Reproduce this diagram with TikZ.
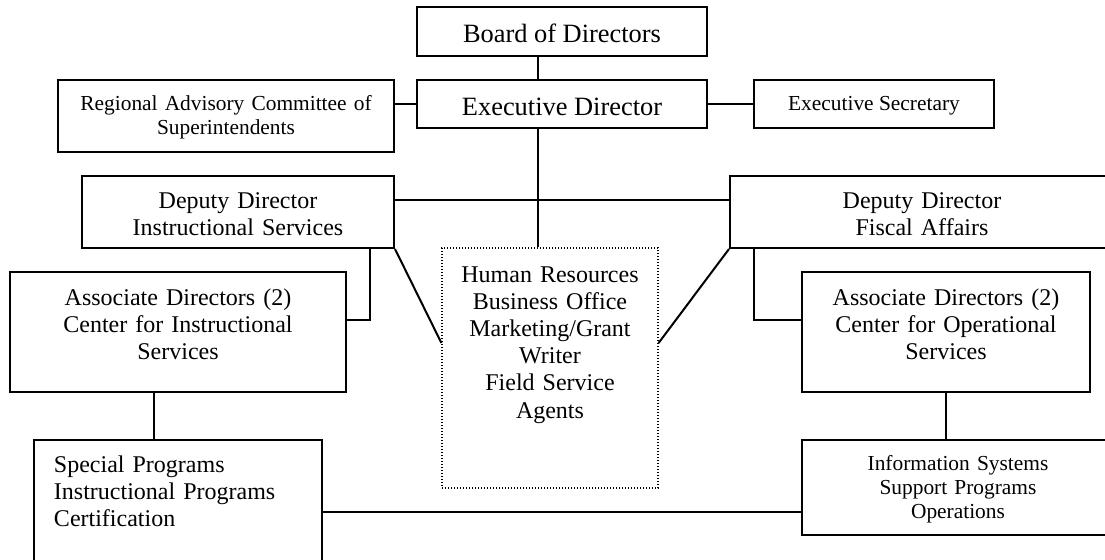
\documentclass[tikz,border=0pt]{standalone}
\usepackage{fontspec}
\setmainfont{Liberation Serif}
\newcommand{\bigsize}{\fontsize{13.2pt}{15pt}\selectfont}
\newcommand{\midsize}{\fontsize{12pt}{13.6pt}\selectfont}
\newcommand{\smallsize}{\fontsize{10.7pt}{12.2pt}\selectfont}

\begin{document}
\begin{tikzpicture}[x=0.5pt, y=-0.5pt, line width=1pt,
    box/.style={draw, rectangle, inner sep=0pt, align=center},
    dotbox/.style={draw, rectangle, inner sep=0pt, align=center, line width=0.6pt, dash pattern=on 0.6pt off 0.9pt}]
    \useasboundingbox (0,0) rectangle (1105,559);
    \clip (0,0) rectangle (1105,559);

    \node[box, minimum width=145pt, text height=17.8pt, text depth=6.7pt, font=\bigsize] at (562,31.5) (board) {Board of Directors};
    \node[box, minimum width=145pt, text height=17.5pt, text depth=6.5pt, font=\bigsize] at (562,104)  (exec)  {Executive Director};
    \node[box, text width=168pt, text height=15pt, text depth=21pt, font=\smallsize] at (226,116) (rac)
        {Regional Advisory Committee of\\ Superintendents};
    \node[box, minimum width=120pt, text height=15pt, text depth=9pt, font=\smallsize] at (874,104) (sec) {Executive Secretary};
    \node[box, text width=156pt, text height=16pt, text depth=20pt, font=\midsize] at (238,212) (ddis)
        {Deputy Director\\ Instructional Services};
    \node[box, text width=192pt, text height=16pt, text depth=20pt, font=\midsize] at (922,212) (ddfa)
        {Deputy Director\\ Fiscal Affairs};
    \node[dotbox, text width=108pt, text height=17pt, text depth=103pt, font=\midsize] at (550,368) (hr)
        {Human Resources\\ Business Office\\ Marketing/Grant\\ Writer\\ Field Service\\ Agents};
    \node[box, text width=168pt, text height=16.5pt, text depth=43.5pt, font=\midsize] at (178,332) (ai)
        {Associate Directors (2)\\ Center for Instructional\\ Services};
    \node[box, text width=144pt, text height=16.5pt, text depth=43.5pt, font=\midsize] at (946,332) (ao)
        {Associate Directors (2)\\ Center for Operational\\ Services};
    \node[box, align=left, inner xsep=10pt, text width=124pt, text height=16pt, text depth=64pt, font=\midsize] at (178,520) (sp)
        {Special Programs\\ Instructional Programs\\ Certification};
    \node[box, text width=156pt, text height=15pt, text depth=32.5pt, font=\smallsize] at (958,487.5) (is)
        {Information Systems\\ Support Programs\\ Operations};

    \coordinate (spine) at (538,0);
    \coordinate (bar)   at (0,200);
    \coordinate (mid)   at (0,343);
    \coordinate (tap)   at (0,320);
    \coordinate (lt)    at (370,0);
    \coordinate (rt)    at (754,0);
    \coordinate (drop)  at (154,0);
    \coordinate (base)  at (0,512);

    \draw (board.south -| spine) -- (exec.north -| spine);
    \draw (rac.east |- exec.west) -- (exec.west);
    \draw (exec.east) -- (sec.west);
    \draw (exec.south -| spine) -- (hr.north -| spine);
    \draw (ddis.east |- bar) -- (ddfa.west |- bar);
    \draw (ddis.south east) -- (hr.west |- mid);
    \draw (ddfa.south west) -- (hr.east |- mid);
    \draw (ddis.south -| lt) |- (ai.east |- tap);
    \draw (ddfa.south -| rt) |- (ao.west |- tap);
    \draw (ai.south -| drop) -- (sp.north -| drop);
    \draw (ao.south) -- (is.north -| ao.south);
    \draw (sp.east |- base) -- (is.west |- base);
\end{tikzpicture}
\end{document}
